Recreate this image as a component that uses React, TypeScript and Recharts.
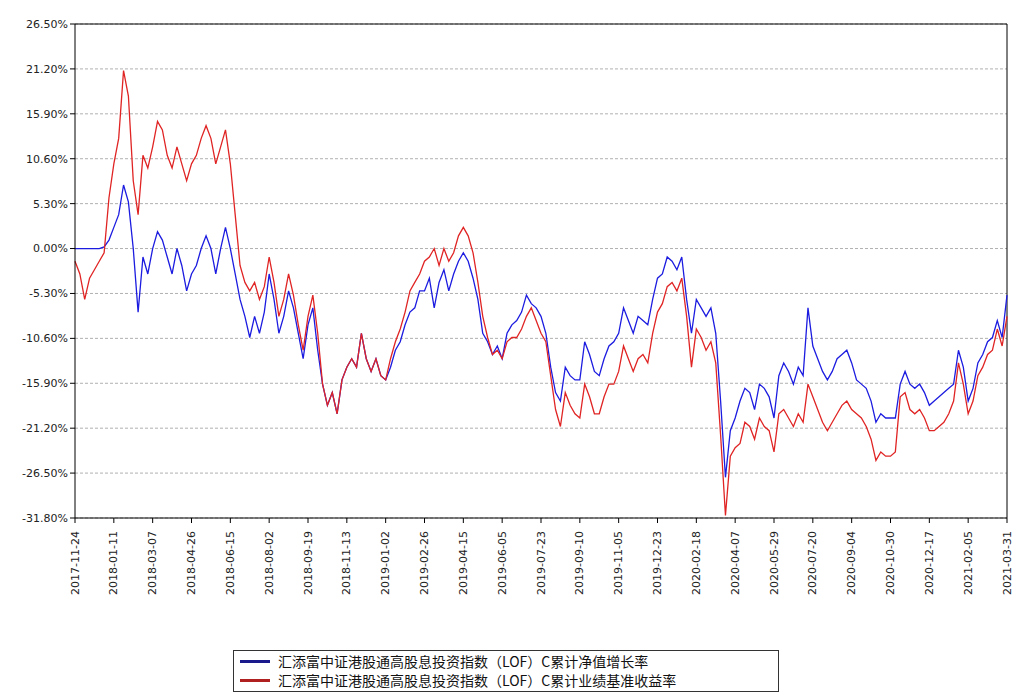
import React from 'react';
import { LineChart, Line, XAxis, YAxis, CartesianGrid, ReferenceLine } from 'recharts';

const dateLabels = [
  '2017-11-24', '2018-01-11', '2018-03-07', '2018-04-26', '2018-06-15', '2018-08-02',
  '2018-09-19', '2018-11-13', '2019-01-02', '2019-02-26', '2019-04-15', '2019-06-05',
  '2019-07-23', '2019-09-10', '2019-11-05', '2019-12-23', '2020-02-18', '2020-04-07',
  '2020-05-29', '2020-07-20', '2020-09-04', '2020-10-30', '2020-12-17', '2021-02-05',
  '2021-03-31',
];

const yTicks = [26.5, 21.2, 15.9, 10.6, 5.3, 0, -5.3, -10.6, -15.9, -21.2, -26.5, -31.8];

// 累计净值增长率 (%)
const navGrowth = [
  0, 0, 0, 0, 0, 0, 0.2, 1, 2.5,
  4, 7.5, 5.5, 0, -7.5, -1, -3, 0,
  2, 1, -1, -3, 0, -2, -5, -3,
  -2, 0, 1.5, 0, -3, 0, 2.5, 0,
  -3, -6, -8, -10.5, -8, -10, -7.5, -3,
  -6, -10, -8, -5, -7, -10, -13, -9,
  -7, -12, -16, -18.5, -17, -19.5, -15.5, -14,
  -13, -14, -10, -13, -14.5, -13, -15, -15.5,
  -14, -12, -11, -9, -7.5, -7, -5, -5,
  -3.5, -7, -4, -2.5, -5, -3, -1.5, -0.5,
  -1.5, -3.5, -6, -10, -11, -12.5, -11.5, -13,
  -10, -9, -8.5, -7.5, -5.5, -6.5, -7, -8,
  -10, -14, -17, -18, -14, -15, -15.5, -15.5,
  -11, -12.5, -14.5, -15, -13, -11.5, -11, -10,
  -7, -8.5, -10, -8, -8.5, -9, -6, -3.5,
  -3, -1, -1.5, -2.5, -1, -6, -10, -6,
  -7, -8, -7, -10, -18, -27, -21.5, -20,
  -18, -16.5, -17, -19, -16, -16.5, -17.5, -20,
  -15, -13.5, -14.5, -16, -14, -15, -7, -11.5,
  -13, -14.5, -15.5, -14.5, -13, -12.5, -12, -13.5,
  -15.5, -16, -16.5, -18, -20.5, -19.5, -20, -20,
  -20, -16, -14.5, -16, -16.5, -16, -17, -18.5,
  -18, -17.5, -17, -16.5, -16, -12, -14, -18,
  -16.5, -13.5, -12.5, -11, -10.5, -8.5, -10.5, -5.5,
];

// 累计业绩基准收益率 (%)
const benchReturn = [
  -1.5, -3, -6, -3.5, -2.5, -1.5, -0.5, 6, 10,
  13, 21, 18, 8, 4, 11, 9.5, 12,
  15, 14, 11, 9.5, 12, 10, 8, 10,
  11, 13, 14.5, 13, 10, 12, 14, 10,
  4, -2, -4, -5, -4, -6, -4.5, -1,
  -4, -8, -6, -3, -5.5, -9, -12, -8,
  -5.5, -10, -16, -18.5, -17, -19.5, -15.5, -14,
  -13, -14, -10, -13, -14.5, -13, -15, -15.5,
  -13, -11, -9.5, -7.5, -5, -4, -3, -1.5,
  -1, 0, -2, 0, -1.5, -0.5, 1.5, 2.5,
  1.5, -0.5, -4, -8, -10.5, -12.5, -12, -13,
  -11, -10.5, -10.5, -9.5, -8, -7, -8.5, -10,
  -11, -15, -19, -21, -17, -18.5, -19.5, -20,
  -16, -17.5, -19.5, -19.5, -17.5, -16, -16, -14.5,
  -11.5, -13, -14.5, -13, -12.5, -13.5, -10, -7.5,
  -6.5, -4.5, -4, -5, -3.5, -8, -14, -9.5,
  -10.5, -12, -11, -13.5, -22, -31.5, -24.5, -23.5,
  -23, -20.5, -21, -22.5, -20, -21, -21.5, -24,
  -19.5, -19, -20, -21, -19.5, -20.5, -16, -17.5,
  -19, -20.5, -21.5, -20.5, -19.5, -18.5, -18, -19,
  -19.5, -20, -21, -22.5, -25, -24, -24.5, -24.5,
  -24, -17.5, -17, -19, -19.5, -19, -20, -21.5,
  -21.5, -21, -20.5, -19.5, -18, -13.5, -16, -19.5,
  -18, -15, -14, -12.5, -12, -9.5, -11.5, -8,
];

const STEP = 8;
const data = navGrowth.map((v, i) => ({ idx: i, nav: v, bench: benchReturn[i] }));
const xTicks = dateLabels.map((_, i) => i * STEP);

const font = '"DejaVu Sans", sans-serif';

const XTick = (props: any) => {
  const { x, y, payload } = props;
  return (
    <text x={x} y={y + 6} transform={`rotate(-90, ${x}, ${y + 6})`} textAnchor="end" dominantBaseline="central"
      fontSize={11} fill="#222" fontFamily={font}>
      {dateLabels[payload.value / STEP]}
    </text>
  );
};

export default function App() {
  return (
    <div style={{ position: 'relative', width: 1005, height: 692, background: '#fff' }}>
      <LineChart width={1005} height={600} data={data}
        margin={{ top: 16, right: 6, left: 0, bottom: 0 }}>
        <CartesianGrid vertical={false} stroke="#b0b0b0" strokeDasharray="3 2" />
        <XAxis dataKey="idx" type="number" domain={[0, 192]} ticks={xTicks} interval={0}
          tick={<XTick />} height={90} stroke="#000" tickSize={5} />
        <YAxis domain={[-31.8, 26.5]} ticks={yTicks} interval={0} width={67} stroke="#000" tickSize={5}
          tickFormatter={(v: number) => v.toFixed(2) + '%'}
          tick={{ fontSize: 11, fill: '#222', fontFamily: font }} />
        <ReferenceLine y={26.5} stroke="#000" />
        <ReferenceLine x={192} stroke="#000" />
        <Line type="linear" dataKey="nav" stroke="#1c1ce0" strokeWidth={1.3} dot={false} isAnimationActive={false} />
        <Line type="linear" dataKey="bench" stroke="#e02424" strokeWidth={1.3} dot={false} isAnimationActive={false} />
      </LineChart>
      <div style={{ position: 'absolute', left: 225, top: 642, width: 532, border: '1px solid #333',
        fontFamily: '"Noto Sans CJK SC", sans-serif', fontSize: 14, color: '#111', padding: '1px 6px', lineHeight: '19px' }}>
        <div style={{ display: 'flex', alignItems: 'center' }}>
          <span style={{ width: 30, height: 3, background: '#1a1a8c', marginRight: 8 }} />
          汇添富中证港股通高股息投资指数（LOF）C累计净值增长率
        </div>
        <div style={{ display: 'flex', alignItems: 'center' }}>
          <span style={{ width: 30, height: 3, background: '#b02020', marginRight: 8 }} />
          汇添富中证港股通高股息投资指数（LOF）C累计业绩基准收益率
        </div>
      </div>
    </div>
  );
}
